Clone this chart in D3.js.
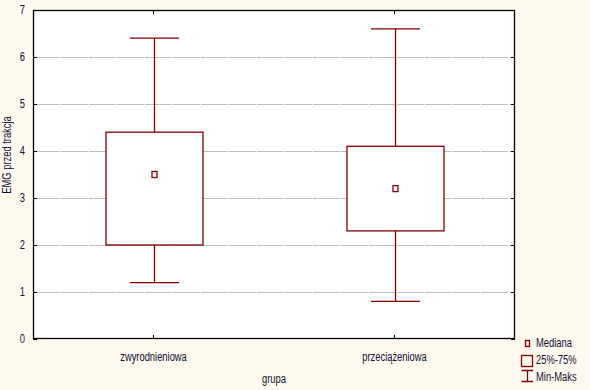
<!DOCTYPE html>
<html><head><meta charset="utf-8">
<script src="https://cdn.jsdelivr.net/npm/d3@7"></script>
<style>
html,body{margin:0;padding:0;background:#fef9ee;}
text{font-family:"Liberation Sans Narrow","Arial Narrow","Liberation Sans",Arial,sans-serif;fill:#101030;}
</style></head><body>
<svg id="c" width="590" height="390"></svg>
<script>
const categories = ["zwyrodnieniowa", "przeciążeniowa"];
const minValues = [1.2, 0.8];
const q1Values = [2.0, 2.3];
const medianValues = [3.5, 3.2];
const q3Values = [4.4, 4.1];
const maxValues = [6.4, 6.6];
const yTicks = [0, 1, 2, 3, 4, 5, 6, 7];
const legendLabels = ["Mediana", "25%-75%", "Min-Maks"];

const svg = d3.select("#c");
const L = 33, R = 515, T = 10, B = 339;
const red = "#800000";
const x = d3.scaleBand().domain(categories).range([L, R]).paddingInner(0).paddingOuter(0);
const y = d3.scaleLinear().domain([0, 7]).range([B, T]);

svg.append("rect").attr("x", L).attr("y", T).attr("width", R - L).attr("height", B - T).attr("fill", "#fff");

// grid
svg.append("g").selectAll("line").data(yTicks.filter(d => d > 0 && d < 7)).join("line")
  .attr("x1", L).attr("x2", R).attr("y1", d => Math.round(y(d)) + 0.5).attr("y2", d => Math.round(y(d)) + 0.5)
  .attr("stroke", "#c0c0c0").attr("stroke-width", 1).attr("stroke-dasharray", "27,1");

// axes (ticks inward)
const fs = 12;
const ya = svg.append("g").attr("transform", `translate(${L},0)`)
  .call(d3.axisLeft(y).tickValues(yTicks).tickFormat(d3.format("d")).tickSize(-4).tickPadding(8));
ya.select(".domain").remove();
ya.selectAll("text").style("font-size", fs + "px");
const yr = svg.append("g").attr("transform", `translate(${R},0)`)
  .call(d3.axisRight(y).tickValues(yTicks).tickSize(-4).tickFormat(""));
yr.select(".domain").remove();
const xa = svg.append("g").attr("transform", `translate(0,${B})`)
  .call(d3.axisBottom(x).tickSize(-4).tickPadding(13));
xa.select(".domain").remove();
xa.selectAll("text").style("font-size", fs + "px");
const xt = svg.append("g").attr("transform", `translate(0,${T})`)
  .call(d3.axisTop(x).tickSize(-4).tickFormat(""));
xt.select(".domain").remove();
svg.selectAll(".tick line").attr("stroke", "#000");
svg.selectAll("g text").attr("fill", "#101030");

svg.append("rect").attr("x", L + 0.5).attr("y", T + 0.5).attr("width", R - L - 1).attr("height", B - T - 1)
  .attr("fill", "none").attr("stroke", "#000").attr("stroke-width", 1.3);

// boxes
const bw = 97, cap = 49;
const g = svg.append("g").attr("stroke", red).attr("fill", "none").attr("stroke-width", 1.3);
categories.forEach((c, i) => {
  const cx = Math.round(x(c) + x.bandwidth() / 2) + 0.5;
  g.append("line").attr("x1", cx).attr("x2", cx).attr("y1", y(maxValues[i])).attr("y2", y(q3Values[i]));
  g.append("line").attr("x1", cx).attr("x2", cx).attr("y1", y(q1Values[i])).attr("y2", y(minValues[i]));
  g.append("line").attr("x1", cx - cap / 2).attr("x2", cx + cap / 2).attr("y1", y(maxValues[i])).attr("y2", y(maxValues[i]));
  g.append("line").attr("x1", cx - cap / 2).attr("x2", cx + cap / 2).attr("y1", y(minValues[i])).attr("y2", y(minValues[i]));
  g.append("rect").attr("x", cx - bw / 2).attr("y", y(q3Values[i])).attr("width", bw).attr("height", y(q1Values[i]) - y(q3Values[i])).attr("fill", "#fff");
  g.append("rect").attr("x", cx - 2.5).attr("y", y(medianValues[i]) - 3).attr("width", 5).attr("height", 6);
});

// titles
svg.append("text").attr("x", (L + R) / 2).attr("y", 383).attr("text-anchor", "middle").style("font-size", fs + "px").text("grupa");
svg.append("text").attr("transform", `translate(11,155) rotate(-90)`).attr("text-anchor", "middle").style("font-size", "12px").text("EMG przed trakcja");

// legend
const lg = svg.append("g");
lg.append("rect").attr("x", 525.5).attr("y", 340.5).attr("width", 4).attr("height", 6).attr("fill", "none").attr("stroke", red).attr("stroke-width", 1.3);
lg.append("rect").attr("x", 521.5).attr("y", 355.5).attr("width", 11).attr("height", 11).attr("fill", "none").attr("stroke", red).attr("stroke-width", 1.3);
lg.append("path").attr("d", "M521.5,370.5H533M527.5,370.5V381.5M521.5,381.5H533").attr("fill", "none").attr("stroke", red).attr("stroke-width", 1.3);
const ly = [347, 364, 381];
legendLabels.forEach((t, i) => lg.append("text").attr("x", 536).attr("y", ly[i]).style("font-size", "12px").text(t));

// condense text horizontally (narrow typeface look)
svg.selectAll("text").each(function () {
  const len = this.getComputedTextLength();
  if (len > 0) d3.select(this).attr("textLength", len * 0.78).attr("lengthAdjust", "spacingAndGlyphs");
});
</script></body></html>
